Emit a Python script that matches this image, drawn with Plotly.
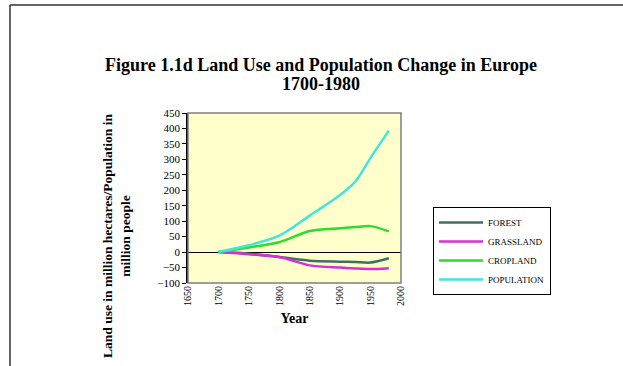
import plotly.graph_objects as go

# Land use change (million hectares) and population change (million people), Europe
years = [1700, 1750, 1800, 1850, 1900, 1925, 1950, 1980]
forest = [0, -5, -16, -28, -31, -32, -34, -20]
grassland = [0, -7, -16, -43, -50, -53, -55, -52]
cropland = [0, 15, 32, 68, 77, 81, 84, 67]
population = [0, 22, 53, 118, 185, 228, 305, 393]

series_names = ["FOREST", "GRASSLAND", "CROPLAND", "POPULATION"]
series_values = [forest, grassland, cropland, population]
series_colors = ["#3F6E69", "#D62FD6", "#2EDB2E", "#3EE6DE"]

x_ticks = [1650, 1700, 1750, 1800, 1850, 1900, 1950, 2000]
y_ticks = [-100, -50, 0, 50, 100, 150, 200, 250, 300, 350, 400, 450]

serif = "Liberation Serif, Times New Roman, serif"

W, H = 623, 366
L, R, T, B = 188, 222, 113, 83
plot_w, plot_h = W - L - R, H - T - B


def px_x(px):
    """Convert a page pixel column to paper x."""
    return (px - L) / plot_w


def px_y(py):
    """Convert a page pixel row to paper y."""
    return (H - B - py) / plot_h


fig = go.Figure()
for name, vals, col in zip(series_names, series_values, series_colors):
    fig.add_trace(go.Scatter(
        x=years, y=vals, name=name, mode="lines",
        line=dict(color=col, width=2.5, shape="spline", smoothing=0.8),
    ))

fig.update_layout(
    width=W, height=H,
    margin=dict(l=L, r=R, t=T, b=B),
    paper_bgcolor="white",
    plot_bgcolor="#FFFFCC",
    showlegend=True,
    legend=dict(
        x=px_x(433), y=px_y(207), xanchor="left", yanchor="top",
        bordercolor="black", borderwidth=1, bgcolor="white",
        font=dict(family=serif, size=9, color="black"),
        itemwidth=44, tracegroupgap=0,
    ),
    xaxis=dict(
        range=[1650, 2000], tickvals=x_ticks, tickangle=-90,
        showgrid=False, zeroline=False, ticks="",
        showline=False,
        tickfont=dict(family=serif, size=10, color="black"),
        title=dict(text="<b>Year</b>", font=dict(family=serif, size=14, color="black"), standoff=8),
    ),
    xaxis2=dict(
        range=[1650, 2000], tickvals=x_ticks, overlaying="x", anchor="free",
        position=100 / 550, showgrid=False, zeroline=False, showline=False,
        ticks="outside", ticklen=2, tickcolor="black", tickwidth=1, showticklabels=False,
    ),
    xaxis3=dict(
        range=[1650, 2000], tickvals=x_ticks, overlaying="x", anchor="free",
        position=100 / 550, showgrid=False, zeroline=False, showline=False,
        ticks="inside", ticklen=2, tickcolor="black", tickwidth=1, showticklabels=False,
        side="bottom",
    ),
    yaxis=dict(
        range=[-100, 450], tickvals=y_ticks,
        showgrid=False, zeroline=True, zerolinecolor="black", zerolinewidth=1.2,
        showline=True, linecolor="black", linewidth=1.5,
        ticks="outside", ticklen=4, tickcolor="black",
        tickfont=dict(family=serif, size=11, color="black"),
    ),
)

# chart title, two lines
fig.add_annotation(text="<b>Figure 1.1d Land Use and Population Change in Europe</b>",
                   xref="paper", yref="paper", x=px_x(321), y=px_y(65),
                   xanchor="center", yanchor="middle", showarrow=False,
                   font=dict(family=serif, size=18, color="black"))
fig.add_annotation(text="<b>1700-1980</b>",
                   xref="paper", yref="paper", x=px_x(321), y=px_y(84),
                   xanchor="center", yanchor="middle", showarrow=False,
                   font=dict(family=serif, size=18, color="black"))

# vertical axis title
fig.add_annotation(text="<b>Land use in million hectares/Population in<br>million people</b>",
                   xref="paper", yref="paper", x=px_x(116), y=px_y(236),
                   xanchor="center", yanchor="middle", showarrow=False, textangle=-90,
                   font=dict(family=serif, size=13.5, color="black"))

# gray frame around the plotting area
fig.add_shape(type="rect", xref="paper", yref="paper", x0=0, x1=1, y0=0, y1=1,
              line=dict(color="#7F7F7F", width=1.5), layer="above")
# outer page frame (top and left edges)
fig.add_shape(type="line", xref="paper", yref="paper", x0=px_x(10), x1=px_x(640), y0=px_y(5), y1=px_y(5),
              line=dict(color="#333333", width=1.5))
fig.add_shape(type="line", xref="paper", yref="paper", x0=px_x(10), x1=px_x(10), y0=px_y(5), y1=px_y(380),
              line=dict(color="#333333", width=1.5))

fig.write_html("out.html")
